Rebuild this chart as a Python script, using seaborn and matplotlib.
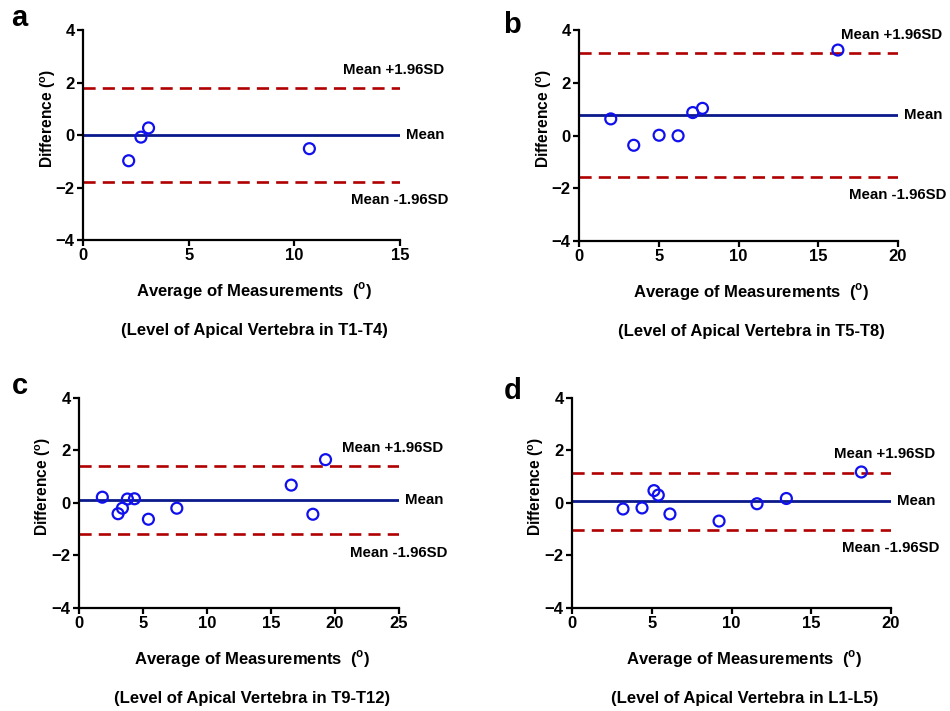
import matplotlib
matplotlib.use("Agg")
import matplotlib.pyplot as plt
import matplotlib.transforms as mtransforms
import seaborn as sns
import pandas as pd

sns.set_theme(style="ticks")
plt.rcParams['font.family'] = ['Liberation Sans', 'DejaVu Sans']
plt.rcParams['font.weight'] = 'bold'
plt.rcParams['text.color'] = 'black'
plt.rcParams['axes.labelcolor'] = 'black'
plt.rcParams['xtick.color'] = 'black'
plt.rcParams['ytick.color'] = 'black'
plt.rcParams['mathtext.fontset'] = 'custom'
plt.rcParams['mathtext.bf'] = 'Liberation Sans:bold'
plt.rcParams['mathtext.rm'] = 'Liberation Sans:bold'

# ---- data ----
a_avg = [2.16, 2.74, 3.10, 10.71]
a_diff = [-0.98, -0.08, 0.27, -0.52]
a_lines = [0.0, 1.80, -1.80]  # mean, upper, lower

b_avg = [1.99, 3.43, 5.02, 6.21, 7.13, 7.74, 16.23]
b_diff = [0.63, -0.37, 0.01, -0.01, 0.87, 1.03, 3.24]
b_lines = [0.76, 3.14, -1.58]

c_avg = [1.82, 3.05, 3.39, 3.78, 4.33, 5.42, 7.64, 16.58, 18.27, 19.26]
c_diff = [0.22, -0.41, -0.20, 0.15, 0.16, -0.62, -0.20, 0.68, -0.43, 1.65]
c_lines = [0.10, 1.40, -1.20]

d_avg = [3.20, 4.39, 5.14, 5.41, 6.14, 9.22, 11.60, 13.44, 18.14]
d_diff = [-0.23, -0.19, 0.47, 0.30, -0.42, -0.69, -0.03, 0.17, 1.18]
d_lines = [0.06, 1.16, -1.02]

letters = ['a', 'b', 'c', 'd']
subtitles = ['(Level of Apical Vertebra in T1-T4)', '(Level of Apical Vertebra in T5-T8)',
             '(Level of Apical Vertebra in T9-T12)', '(Level of Apical Vertebra in L1-L5)']
xmaxes = [15, 20, 25, 20]
xtick_step = 5
yticks = [-4, -2, 0, 2, 4]

panels = [(a_avg, a_diff, a_lines), (b_avg, b_diff, b_lines),
          (c_avg, c_diff, c_lines), (d_avg, d_diff, d_lines)]

positions = [
    [0.0874, 0.6624, 0.3337, 0.2954],
    [0.6095, 0.6610, 0.3358, 0.2968],
    [0.0832, 0.1449, 0.3368, 0.2954],
    [0.6021, 0.1449, 0.3358, 0.2954],
]
letter_pos = [(0.012, 0.995), (0.530, 0.985), (0.012, 0.477), (0.530, 0.470)]

fig = plt.figure(figsize=(9.5, 7.11), dpi=100)

for i, (avg, diff, lines) in enumerate(panels):
    ax = fig.add_axes(positions[i])
    df = pd.DataFrame({'avg': avg, 'diff': diff})
    mean, up, lo = lines
    ax.axhline(mean, color='#0a1a8c', lw=2.0, zorder=2)
    ax.axhline(up, color='#b00000', lw=1.9, dashes=(4.6, 2.7), zorder=2)
    ax.axhline(lo, color='#b00000', lw=1.9, dashes=(4.6, 2.7), zorder=2)
    sns.scatterplot(data=df, x='avg', y='diff', ax=ax, marker='o', s=62,
                    facecolors='none', edgecolor='#1010ee', linewidth=1.6, zorder=3,
                    clip_on=False)
    ax.set_xlim(0, xmaxes[i])
    ax.set_ylim(-4, 4)
    ax.set_xticks(list(range(0, xmaxes[i] + 1, xtick_step)))
    ax.set_yticks(yticks)
    for s in ['top', 'right']:
        ax.spines[s].set_visible(False)
    for s in ['left', 'bottom']:
        ax.spines[s].set_linewidth(1.6)
        ax.spines[s].set_color('black')
    ax.tick_params(axis='both', direction='out', length=4, width=1.6, colors='black',
                   labelsize=12, pad=2)
    for lab in ax.get_xticklabels() + ax.get_yticklabels():
        lab.set_fontweight('bold')
    ax.set_xlabel(r'Average of Measurements  ($^{\mathbf{o}}$)', fontsize=12,
                  fontweight='bold')
    ax.xaxis.set_label_coords(0.54, -0.19)
    ax.set_ylabel(r'Difference ($^{\mathbf{o}}$)', fontsize=11.2, fontweight='bold')
    ax.yaxis.set_label_coords(-0.08, 0.58)
    ax.text(0.54, -0.43, subtitles[i], transform=ax.transAxes, ha='center', va='center',
            fontsize=12, fontweight='bold')

    trans = mtransforms.blended_transform_factory(ax.transAxes, ax.transData)
    ax.annotate('Mean', xy=(1.0, mean), xycoords=trans, xytext=(4.5, 0),
                textcoords='offset points', ha='left', va='center', fontsize=10.8,
                fontweight='bold', annotation_clip=False)
    ax.annotate('Mean +1.96SD', xy=(1.0, up), xycoords=trans, xytext=(32, 13),
                textcoords='offset points', ha='right', va='center', fontsize=10.8,
                fontweight='bold', annotation_clip=False)
    ax.annotate('Mean -1.96SD', xy=(1.0, lo), xycoords=trans, xytext=(35, -13),
                textcoords='offset points', ha='right', va='center', fontsize=10.8,
                fontweight='bold', annotation_clip=False)

    fig.text(letter_pos[i][0], letter_pos[i][1], letters[i], fontsize=21,
             fontweight='bold', ha='left', va='top')

fig.savefig('out.png', dpi=100, facecolor='white')
